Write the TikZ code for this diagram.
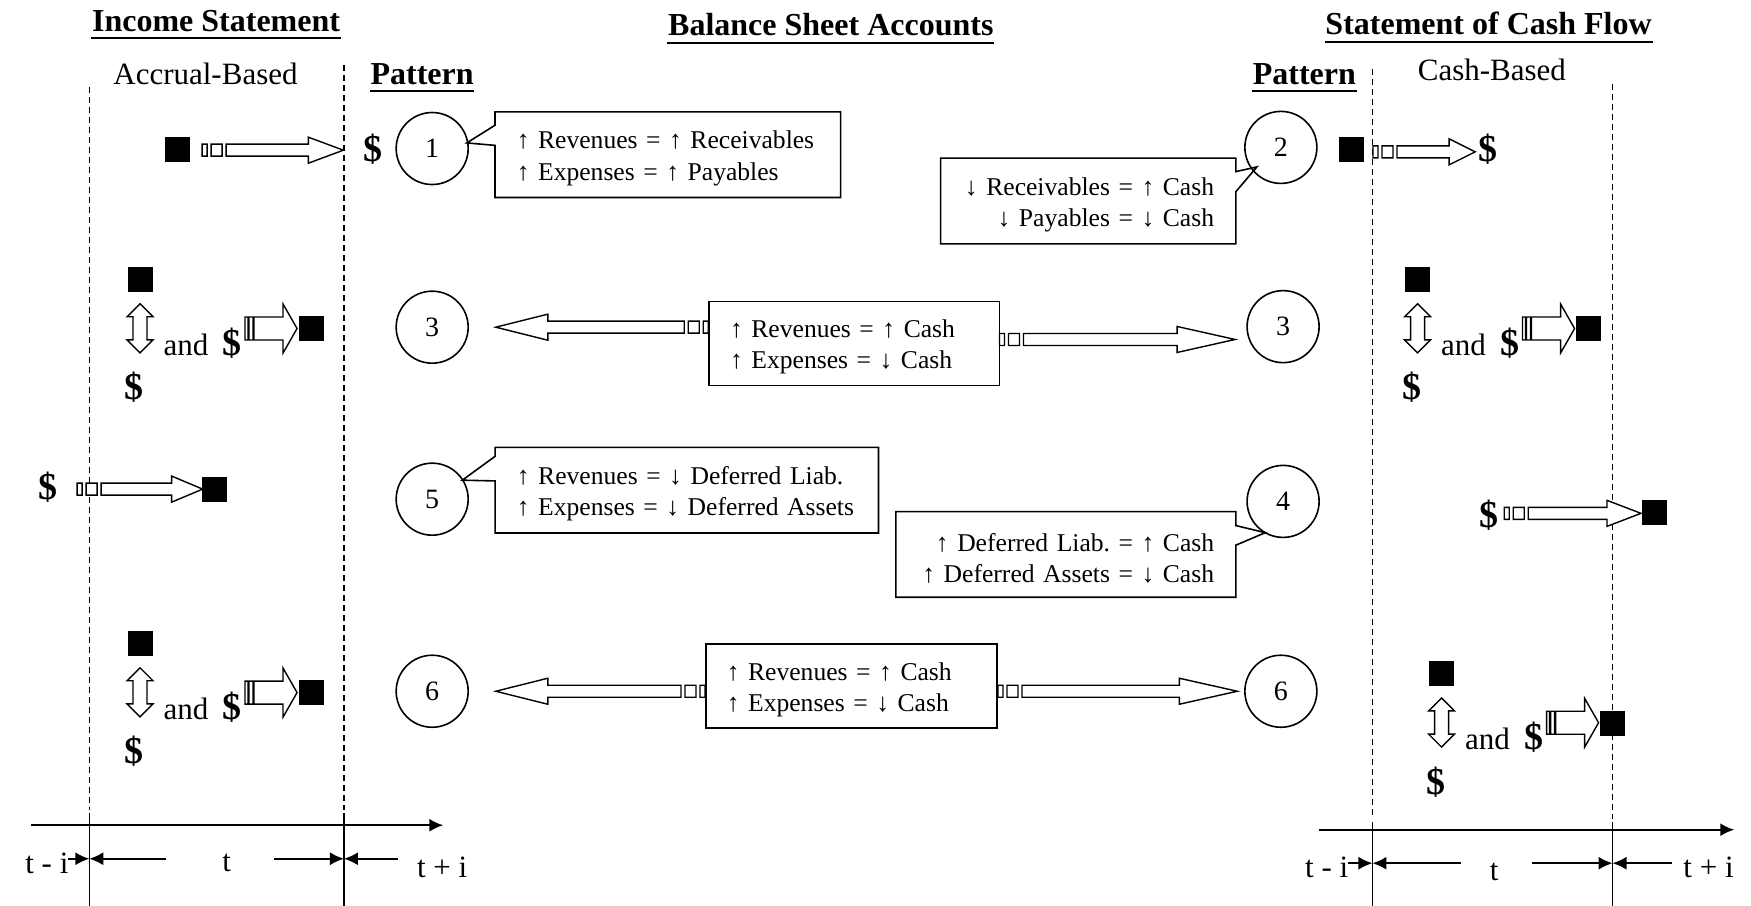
\documentclass[tikz,border=0pt]{standalone}
\usepackage{fontspec}
\setmainfont{Liberation Serif}
\frenchspacing
\usetikzlibrary{calc,arrows.meta}

% striped block arrow: #1 head length, #2 tail, #3 tip
\newcommand{\sarrow}[3]{%
\draw[fill=white,line width=.7pt]
  ($(#2)+(0pt,3pt)$) rectangle ($(#2)!2.5pt!(#3)+(0pt,-3pt)$)
  ($(#2)!4.5pt!(#3)+(0pt,3pt)$) rectangle ($(#2)!10pt!(#3)+(0pt,-3pt)$)
  ($(#2)!12pt!(#3)+(0pt,3pt)$) -- ($(#3)!#1!(#2)+(0pt,3pt)$) -- ($(#3)!#1!(#2)+(0pt,6.5pt)$)
  -- (#3) -- ($(#3)!#1!(#2)+(0pt,-6.5pt)$) -- ($(#3)!#1!(#2)+(0pt,-3pt)$)
  -- ($(#2)!12pt!(#3)+(0pt,-3pt)$) -- cycle;}
% fat striped arrow
\newcommand{\farrow}[2]{%
\draw[fill=white,line width=.7pt]
  ($(#1)+(0pt,5.75pt)$) rectangle ($(#1)!1.5pt!(#2)+(0pt,-5.75pt)$)
  ($(#1)!2pt!(#2)+(0pt,5.75pt)$) rectangle ($(#1)!4pt!(#2)+(0pt,-5.75pt)$)
  ($(#1)!4.5pt!(#2)+(0pt,5.75pt)$) -- ($(#2)!7pt!(#1)+(0pt,5.75pt)$) -- ($(#2)!7pt!(#1)+(0pt,12.25pt)$)
  -- (#2) -- ($(#2)!7pt!(#1)+(0pt,-12.25pt)$) -- ($(#2)!7pt!(#1)+(0pt,-5.75pt)$)
  -- ($(#1)!4.5pt!(#2)+(0pt,-5.75pt)$) -- cycle;}
% up-down block arrow
\newcommand{\darrow}[2]{%
\draw[fill=white,line width=.7pt] (#1) -- ($(#1)!6.5pt!(#2)+(6.5pt,0pt)$) -- ($(#1)!6.5pt!(#2)+(3.5pt,0pt)$)
  -- ($(#2)!6.5pt!(#1)+(3.5pt,0pt)$) -- ($(#2)!6.5pt!(#1)+(6.5pt,0pt)$) -- (#2)
  -- ($(#2)!6.5pt!(#1)+(-6.5pt,0pt)$) -- ($(#2)!6.5pt!(#1)+(-3.5pt,0pt)$)
  -- ($(#1)!6.5pt!(#2)+(-3.5pt,0pt)$) -- ($(#1)!6.5pt!(#2)+(-6.5pt,0pt)$) -- cycle;}

\begin{document}
\begin{tikzpicture}[x=0.5583pt,y=-0.5583pt,>={Latex[length=7pt,width=6.5pt]},line width=.8pt,
  head/.style={font=\fontsize{16}{19}\selectfont\bfseries,inner sep=0},
  txt/.style={font=\fontsize{15.5}{18}\selectfont,inner sep=0},
  dol/.style={font=\fontsize{19}{22}\selectfont\bfseries,inner sep=0},
  sq/.style={fill=black,minimum size=12.5pt,inner sep=0},
  num/.style={circle,draw,minimum size=36pt,inner sep=0,font=\fontsize{14}{16}\selectfont},
  box/.style={minimum height=42pt,inner xsep=10.5pt,inner ysep=0,font=\fontsize{12.8}{15.6}\selectfont,
    execute at begin node={\rule{0pt}{12.6pt}}},
  vline/.style={dash pattern=on 3pt off 2pt}]
\useasboundingbox (0,0) rectangle (1568,811);

\node[head,anchor=base] (inc) at (193.5,28) {Income Statement};
\node[head,anchor=base] (bal) at (744,32) {Balance Sheet Accounts};
\node[head,anchor=base] (cfs) at (1333,31) {Statement of Cash Flow};
\node[txt,anchor=base] (acc) at (184,76) {Accrual-Based};
\node[head,anchor=base] (pat1) at (378,75.5) {Pattern};
\node[head,anchor=base] (pat2) at (1168,75.5) {Pattern};
\node[txt,anchor=base] (cb) at (1336,72) {Cash-Based};
\foreach \n in {inc,bal,cfs,pat1,pat2}
    \draw[line width=1.1pt] ([yshift=-3.5pt]\n.base west)--([yshift=-3.5pt]\n.base east);

% time lines
\foreach \x/\t/\b in {80/78/725,308/58/725,1229/62/733,1444/75/733}
{
    \draw[vline] (\x,\t)--(\x,\b);
}
\foreach \x/\t in {80/728,308/728,1229/736,1444/736}
    \draw (\x,\t)--(\x,811);

\draw[->,line width=1pt] (28,739)--(397,739);
\draw[->,line width=1pt] (1181,743)--(1553,743);
\draw[->] (51,769)--(80,769);
\draw[->] (149,769)--(80,769);
\draw[->] (245,769)--(308,769);
\draw[->] (356,769)--(308,769);
\draw[->] (1201,773)--(1229,773);
\draw[->] (1308,773)--(1229,773);
\draw[->] (1372,773)--(1444,773);
\draw[->] (1497,773)--(1444,773);
\node[txt,fill=white] (tl) at (42,773) {t - i};
\node[txt] (tm) at (203,773) {t};
\node[txt] (tr) at (396,777) {t + i};
\node[txt,fill=white] (tl2) at (1188,777) {t - i};
\node[txt] (tm2) at (1338,781) {t};
\node[txt] (tr2) at (1530,777) {t + i};

% pattern circles
\foreach \x/\y/\n/\m in {387/133/1/a,1147/132/2/b,387/293/3/c,1149/292.5/3/d,387/447/5/e,1149/449/4/f,387/619/6/g,1147/619/6/h}
    \node[num] (c\m) at (\x,\y) {\n};

% boxes
\node[box,text width=151pt,align=left] (b1) at (598,138.5) {↑ Revenues = ↑ Receivables\\↑ Expenses = ↑ Payables};
\node[box,text width=125.8pt,align=right] (b2) at (974.5,180) {↓ Receivables = ↑ Cash\\↓ Payables = ↓ Cash};
\node[box,draw,text width=124.2pt,align=left] (b3) at (765,307.5) {↑ Revenues = ↑ Cash\\↑ Expenses = ↓ Cash};
\node[box,text width=169.9pt,align=left] (b5) at (615,439) {↑ Revenues = ↓ Deferred Liab.\\↑ Expenses = ↓ Deferred Assets};
\node[box,text width=148.2pt,align=right] (b4) at (954.5,496.5) {↑ Deferred Liab. = ↑ Cash\\↑ Deferred Assets = ↓ Cash};
\node[box,draw,text width=124.7pt,align=left] (b6) at (762.5,614.5) {↑ Revenues = ↑ Cash\\↑ Expenses = ↓ Cash};

\coordinate (p1) at (418,128);
\coordinate (p2) at (1125.5,149.5);
\coordinate (p5) at (414,430);
\coordinate (p4) at (1133,477);
\draw (b1.north west)--(b1.north east)--(b1.south east)--(b1.south west)--($(b1.north west)+(0,30)$)--(p1)--($(b1.north west)+(0,12)$)--cycle;
\draw (b5.north west)--(b5.north east)--(b5.south east)--(b5.south west)--($(b5.north west)+(0,30)$)--(p5)--($(b5.north west)+(0,8)$)--cycle;
\draw (b2.north east)--($(b2.north east)+(0,12)$)--(p2)--($(b2.north east)+(0,30)$)--(b2.south east)--(b2.south west)--(b2.north west)--cycle;
\draw (b4.north east)--($(b4.north east)+(0,12.5)$)--(p4)--($(b4.north east)+(0,30)$)--(b4.south east)--(b4.south west)--(b4.north west)--cycle;

% arrows from the boxes
\coordinate (l3) at (b3.west|-cc); \coordinate (l3t) at (444,293);
\coordinate (r3) at (895,304); \coordinate (r3t) at (1106,304);
\coordinate (l6) at (b6.west|-cg); \coordinate (l6t) at (444,619);
\coordinate (r6) at (b6.east|-ch); \coordinate (r6t) at (1108,619);
\sarrow{26pt}{l3}{l3t}
\sarrow{29pt}{r3}{r3t}
\sarrow{26pt}{l6}{l6t}
\sarrow{29pt}{r6}{r6t}

% row 1
\node[sq] (s1) at (159,133.5) {};
\node[dol] (d1) at (334,134) {\$};
\coordinate (a1) at (181,134.5); \coordinate (a1t) at (307.5,134.5);
\sarrow{17.5pt}{a1}{a1t}
\node[sq] (s2) at (1209.8,133.5) {};
\node[dol] (d2) at (1332.5,134) {\$};
\coordinate (a2) at (1229.5,136); \coordinate (a2t) at (1321,136);
\sarrow{13pt}{a2}{a2t}

% row 3
\node[dol] (d3) at (43,436) {\$};
\node[sq] (s3) at (192.5,438) {};
\coordinate (a3) at (69,438); \coordinate (a3t) at (181.5,438);
\sarrow{15.5pt}{a3}{a3t}
\node[dol] (d4) at (1333.4,461) {\$};
\node[sq] (s4) at (1481.6,459.3) {};
\coordinate (a4) at (1347,459.7); \coordinate (a4t) at (1469.5,459.7);
\sarrow{17pt}{a4}{a4t}

% rows 2 and 4
\foreach \dx/\dy/\m in {0/0/a,1144/0/b,0/326/c,1165.5/353/d}
{
\begin{scope}[shift={(\dx,\dy)}]
    \node[sq] (q\m) at (125.4,250.5) {};
    \coordinate (u\m) at (125.4,272);
    \coordinate (v\m) at (125.4,316);
    \node[txt,anchor=base] (and\m) at (166.5,318) {and};
    \node[dol,anchor=base] (k\m) at (207.8,318) {\$};
    \coordinate (f\m) at (219.4,294.2);
    \coordinate (g\m) at (266,294.2);
    \node[sq] (w\m) at (278.6,294.5) {};
    \node[dol] (e\m) at (120.4,347) {\$};
\end{scope}
\darrow{u\m}{v\m}
\farrow{f\m}{g\m}
}
\end{tikzpicture}
\end{document}
